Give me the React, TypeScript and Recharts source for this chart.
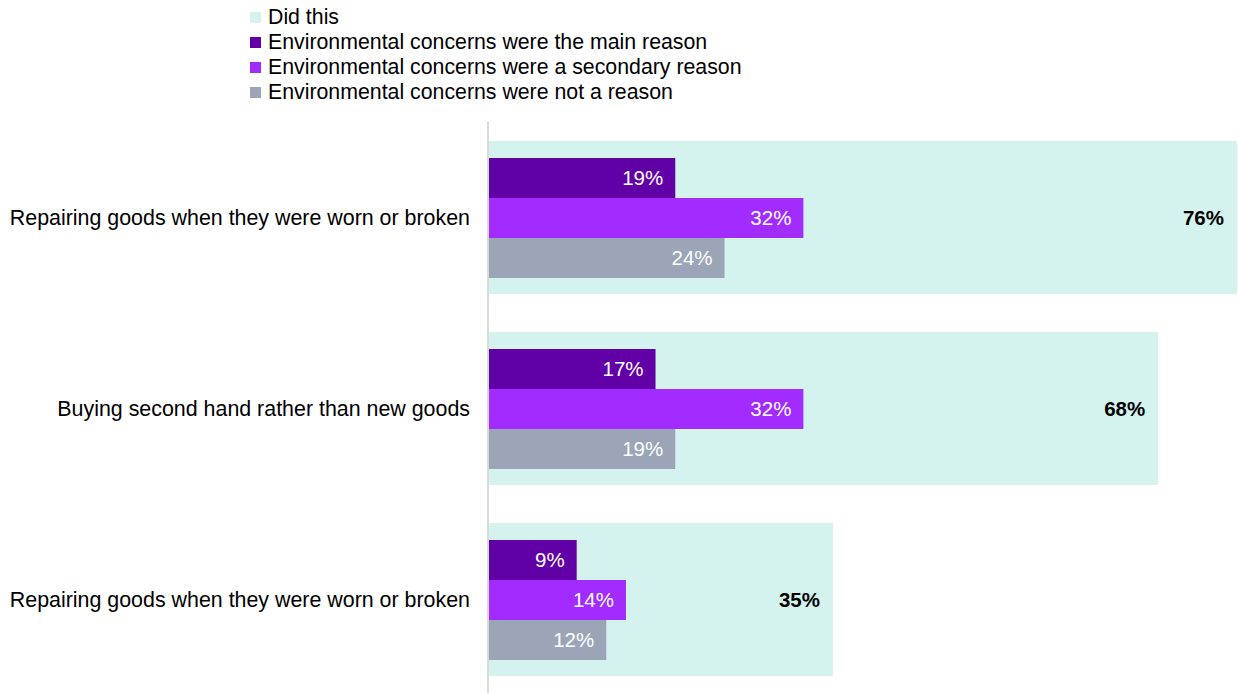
import React from 'react';
import { BarChart, Bar, XAxis, YAxis, LabelList, Legend } from 'recharts';

const categories = [
  'Repairing goods when they were worn or broken',
  'Buying second hand rather than new goods',
  'Repairing goods when they were worn or broken',
];
const didThis = [76, 68, 35];
const mainReason = [19, 17, 9];
const secondaryReason = [32, 32, 14];
const notReason = [24, 19, 12];

const seriesNames = [
  'Did this',
  'Environmental concerns were the main reason',
  'Environmental concerns were a secondary reason',
  'Environmental concerns were not a reason',
];
const seriesColors = ['#D5F3EE', '#6200A8', '#A22BFF', '#9BA5B7'];

const data = categories.map((c, i) => ({
  id: i,
  label: c,
  did: didThis[i],
  main: mainReason[i],
  secondary: secondaryReason[i],
  not: notReason[i],
}));

const FONT = '"Liberation Sans", Arial, sans-serif';

const fmt = (v: any) => `${v}%`;

const LegendContent = () => (
  <div style={{ fontFamily: FONT, fontSize: 21.3, color: '#000' }}>
    {seriesNames.map((n, i) => (
      <div key={n} style={{ display: 'flex', alignItems: 'center', height: 25 }}>
        <span
          style={{
            display: 'inline-block',
            width: 11,
            height: 11,
            background: seriesColors[i],
            marginRight: 7,
          }}
        />
        <span>{n}</span>
      </div>
    ))}
  </div>
);

export default function App() {
  return (
    <div style={{ position: 'absolute', left: 0, top: 0, width: 1238, height: 693, overflow: 'hidden', background: '#fff' }}>
      <BarChart
        width={1238}
        height={700}
        data={data}
        layout="vertical"
        barGap={0}
        margin={{ top: 122, right: 1, bottom: 5, left: 0 }}
      >
        <XAxis type="number" domain={[0, 76]} hide />
        <YAxis
          yAxisId="bg"
          type="category"
          dataKey="id"
          width={0}
          hide
        />
        <YAxis
          yAxisId="fg"
          type="category"
          dataKey="id"
          width={488}
          axisLine={{ stroke: '#D9D9D9', strokeWidth: 2 }}
          tickLine={false}
          tickMargin={12}
          tickFormatter={(v: any) => categories[v]}
          tick={{ fill: '#000', fontSize: 21.4, fontFamily: FONT }}
        />
        <Legend
          layout="vertical"
          align="center"
          verticalAlign="middle"
          content={<LegendContent />}
          wrapperStyle={{ top: 5, left: 250, width: 600, height: 100 }}
        />
        <Bar yAxisId="bg" dataKey="did" name={seriesNames[0]} fill={seriesColors[0]} barSize={153} isAnimationActive={false}>
          <LabelList dataKey="did" position="insideRight" offset={13} formatter={fmt} fill="#000" fontWeight="bold" fontSize={20.5} fontFamily={FONT} />
        </Bar>
        <Bar yAxisId="fg" dataKey="main" name={seriesNames[1]} fill={seriesColors[1]} barSize={40} isAnimationActive={false}>
          <LabelList dataKey="main" position="insideRight" offset={12} formatter={fmt} fill="#fff" fontSize={20.5} fontFamily={FONT} />
        </Bar>
        <Bar yAxisId="fg" dataKey="secondary" name={seriesNames[2]} fill={seriesColors[2]} barSize={40} isAnimationActive={false}>
          <LabelList dataKey="secondary" position="insideRight" offset={12} formatter={fmt} fill="#fff" fontSize={20.5} fontFamily={FONT} />
        </Bar>
        <Bar yAxisId="fg" dataKey="not" name={seriesNames[3]} fill={seriesColors[3]} barSize={40} isAnimationActive={false}>
          <LabelList dataKey="not" position="insideRight" offset={12} formatter={fmt} fill="#fff" fontSize={20.5} fontFamily={FONT} />
        </Bar>
      </BarChart>
    </div>
  );
}
